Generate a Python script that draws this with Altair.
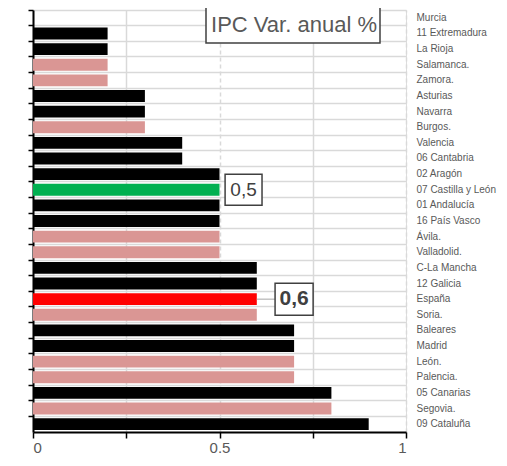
import altair as alt
import pandas as pd

categories = ["Murcia", "11 Extremadura", "La Rioja", "Salamanca.", "Zamora.", "Asturias",
              "Navarra", "Burgos.", "Valencia", "06 Cantabria", "02 Aragón", "07 Castilla y León",
              "01 Andalucía", "16 País Vasco", "Ávila.", "Valladolid.", "C-La Mancha", "12 Galicia",
              "España", "Soria.", "Baleares", "Madrid", "León.", "Palencia.", "05 Canarias",
              "Segovia.", "09 Cataluña"]
values = [0.0, 0.2, 0.2, 0.2, 0.2, 0.3, 0.3, 0.3, 0.4, 0.4, 0.5, 0.5, 0.5, 0.5, 0.5, 0.5,
          0.6, 0.6, 0.6, 0.6, 0.7, 0.7, 0.7, 0.7, 0.8, 0.8, 0.9]
green_cat = "07 Castilla y León"
red_cat = "España"
kinds = ["provincia", "region", "cyl", "espana"]
kind_colors = ["#DA9694", "#000000", "#00B050", "#FF0000"]
x_ticks = [0, 0.25, 0.5, 0.75, 1]
title_text = "IPC Var. anual %"
label_green = "0,5"
label_red = "0,6"

FONT = "Liberation Sans"


def kind_of(c):
    if c == green_cat:
        return "cyl"
    if c == red_cat:
        return "espana"
    if c.endswith("."):
        return "provincia"
    return "region"


df = pd.DataFrame({"cat": categories, "value": values,
                   "kind": [kind_of(c) for c in categories]})
val_of = dict(zip(categories, values))

W, H = 373, 422
ysc = alt.Scale(domain=categories, paddingInner=0, paddingOuter=0)
xsc = alt.Scale(domain=[0, 1], nice=False)

x_axis = alt.Axis(
    values=x_ticks, format="~g",
    labelExpr="datum.value == 0.25 || datum.value == 0.75 ? '' : datum.label",
    grid=True, gridColor="#d9d9d9", gridWidth=1.5,
    gridDash={"condition": {"test": "datum.value >= 0.49 && datum.value != 0.75", "value": [4, 3]},
              "value": []},
    domainColor="black", domainWidth=2, tickColor="black", tickWidth=1.5, tickSize=6,
    labelFontSize=15, labelColor="#595959", labelFont=FONT, labelPadding=2, title=None)

y_left = alt.Axis(orient="left", labels=False, ticks=True, tickSize=5, tickColor="black",
                  tickWidth=1.5, bandPosition=0, domainColor="black", domainWidth=2,
                  grid=True, gridColor="#d9d9d9", gridWidth=1.5, title=None)

y_right = alt.Axis(orient="right", labels=True, ticks=False, domain=False, grid=False,
                   labelFontSize=10, labelColor="#595959", labelFont=FONT, labelPadding=10,
                   title=None)

X = lambda f: alt.X(f, scale=xsc, axis=x_axis)
Ynone = alt.Y("cat:N", scale=ysc, sort=categories, axis=None)

base = alt.Chart(df)

bars = base.mark_bar(height={"band": 0.76}).encode(
    x=X("value:Q"),
    y=alt.Y("cat:N", scale=ysc, sort=categories, axis=y_left),
    color=alt.Color("kind:N", scale=alt.Scale(domain=kinds, range=kind_colors), legend=None),
)

right_labels = base.mark_text(text="").encode(
    x=X("value:Q"),
    y=alt.Y("cat:N", scale=ysc, sort=categories, axis=y_right),
)

# data label 0,5 (Castilla y León)
ann_g = pd.DataFrame({"cat": [green_cat], "value": [val_of[green_cat]], "t": [label_green]})
g_base = alt.Chart(ann_g).transform_calculate(
    x1="datum.value + 0.015", x2="datum.value + 0.114", xc="datum.value + 0.0645")
g_box = g_base.mark_bar(height=31, fill="white", stroke="#404040", strokeWidth=1.5).encode(
    x=X("x1:Q"), x2="x2:Q", y=Ynone)
g_txt = g_base.mark_text(fontSize=19, font=FONT, color="#404040", baseline="middle").encode(
    x=X("xc:Q"), y=Ynone, text="t:N")

# data label 0,6 (España)
ann_r = pd.DataFrame({"cat": [red_cat], "value": [val_of[red_cat]], "t": [label_red]})
r_base = alt.Chart(ann_r).transform_calculate(
    x1="datum.value + 0.049", x2="datum.value + 0.151", xc="datum.value + 0.1")
r_line = r_base.mark_rule(color="#a6a6a6", strokeWidth=1).encode(
    x=X("value:Q"), x2="x1:Q", y=Ynone)
r_box = r_base.mark_bar(height=32, fill="white", stroke="#404040", strokeWidth=1.5).encode(
    x=X("x1:Q"), x2="x2:Q", y=Ynone)
r_txt = r_base.mark_text(fontSize=21, font=FONT, fontWeight="bold", color="#404040",
                         baseline="middle").encode(
    x=X("xc:Q"), y=Ynone, text="t:N")

# title box
tdf = pd.DataFrame({"t": [title_text]})
t_box = alt.Chart(tdf).mark_rect(fill="white", stroke="#404040", strokeWidth=1.5).encode(
    x=alt.value(173), x2=alt.value(347), y=alt.value(-3), y2=alt.value(33))
t_txt = alt.Chart(tdf).mark_text(fontSize=22, font=FONT, color="#595959",
                                 baseline="middle").encode(
    text="t:N", x=alt.value(261), y=alt.value(15))

chart = alt.layer(bars, right_labels, g_box, g_txt, r_line, r_box, r_txt, t_box, t_txt).resolve_scale(
    y="shared", x="shared").resolve_axis(y="independent").properties(
    width=W, height=H,
    autosize=alt.AutoSizeParams(type="none"),
    padding={"left": 25, "top": 2, "right": 93, "bottom": 26},
).configure_view(stroke=None).configure(background="white")

chart.save("out.html", embed_options={"renderer": "svg", "actions": False})
